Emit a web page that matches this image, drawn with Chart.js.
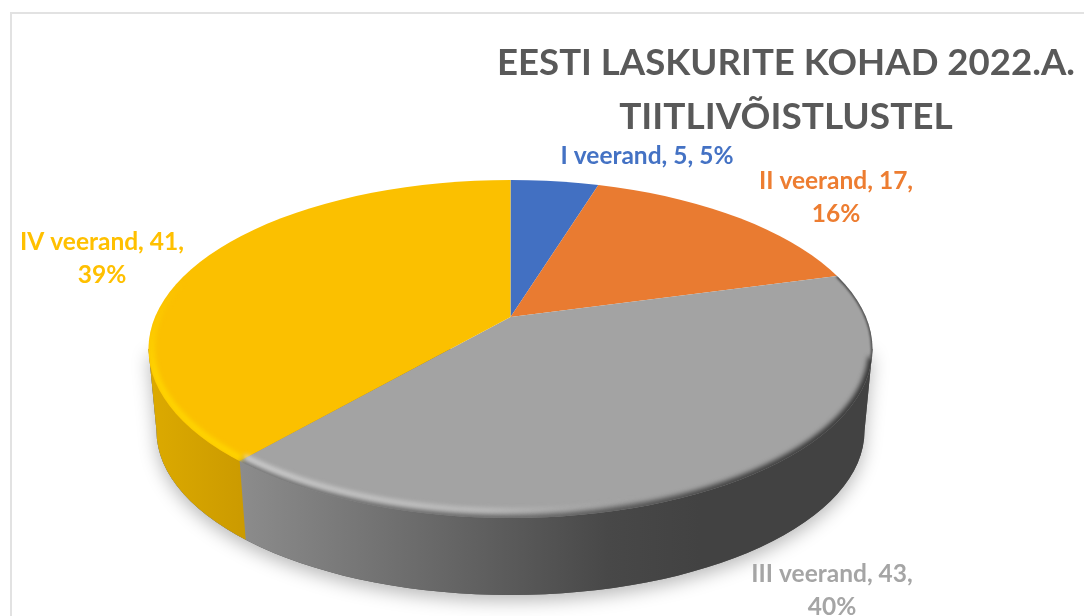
<!DOCTYPE html>
<html>
<head>
<meta charset="utf-8">
<title>Eesti laskurite kohad</title>
<script src="https://cdn.jsdelivr.net/npm/chart.js@4"></script>
<style>
  html, body { margin: 0; background: #fff; }
  #wrap { position: relative; width: 1084px; height: 616px; overflow: hidden; }
  #frame { position: absolute; left: 10px; top: 12px; width: 1100px; height: 700px;
           border-left: 2px solid #e2e2e2; border-top: 2px solid #e2e2e2; }
  canvas { position: absolute; left: 0; top: 0; }
</style>
</head>
<body>
<div id="wrap">
  <div id="frame"></div>
  <canvas id="pieChart" width="1084" height="616"></canvas>
</div>
<script>
const categories = ["I veerand", "II veerand", "III veerand", "IV veerand"];
const values = [5, 17, 43, 41];
const percents = [5, 16, 40, 39];
const titleLines = ["EESTI LASKURITE KOHAD 2022.A.", "TIITLIVÕISTLUSTEL"];

const sliceColors = ["#4270c2", "#e97b31", "#a3a3a3", "#fbc000"];
const labelColors = ["#4472c4", "#ed7d31", "#a5a5a5", "#ffc000"];
// label layout: centre x, first line y, and where the text wraps
const labelPos = [[647, 156], [836, 181], [832, 574], [102, 242]];
const labelWrap = [false, true, true, true];

// perspective of the pie: apex sits above the centre of the top ellipse
const apex = { x: 510.5, y: 317 };
const squash = 2.18;
const topFace = { x: 510.5, y: 349, rx: 362, ry: 169 };
const bottomFace = { x: 510.5, y: 431, rx: 354, ry: 164 };

// where a slice edge leaves the top ellipse, as ellipse parameter angle
function rimAngle(angle) {
  const dx = Math.cos(angle) * squash, dy = Math.sin(angle);
  const ox = (apex.x - topFace.x) / topFace.rx, oy = (apex.y - topFace.y) / topFace.ry;
  const ux = dx / topFace.rx, uy = dy / topFace.ry;
  const a = ux * ux + uy * uy, b = 2 * (ox * ux + oy * uy), c = ox * ox + oy * oy - 1;
  const t = (-b + Math.sqrt(b * b - 4 * a * c)) / (2 * a);
  return Math.atan2(oy + t * uy, ox + t * ux);
}

function wallPath(ctx) {
  ctx.beginPath();
  ctx.moveTo(topFace.x - topFace.rx, topFace.y);
  ctx.lineTo(bottomFace.x - bottomFace.rx, bottomFace.y);
  ctx.ellipse(bottomFace.x, bottomFace.y, bottomFace.rx, bottomFace.ry, 0, Math.PI, 0, true);
  ctx.lineTo(topFace.x + topFace.rx, topFace.y);
  ctx.closePath();
}

function drawWall(ctx, seam) {
  const topX = topFace.x + topFace.rx * Math.cos(seam);
  const botX = bottomFace.x + bottomFace.rx * Math.cos(seam);

  const grey = ctx.createLinearGradient(topX, 0, 700, 0);
  grey.addColorStop(0, "#8c8c8c");
  grey.addColorStop(0.45, "#666666");
  grey.addColorStop(0.8, "#484848");
  grey.addColorStop(1, "#424242");

  const yellow = ctx.createLinearGradient(150, 0, topX, 0);
  yellow.addColorStop(0, "#dcaa00");
  yellow.addColorStop(1, "#cc9b00");

  // soft shadow under the disc
  ctx.save();
  ctx.shadowColor = "rgba(0,0,0,0.28)";
  ctx.shadowBlur = 18;
  ctx.shadowOffsetY = 6;
  wallPath(ctx);
  ctx.fillStyle = "#555";
  ctx.fill();
  ctx.restore();

  ctx.save();
  wallPath(ctx);
  ctx.fillStyle = grey;
  ctx.fill();
  wallPath(ctx);
  ctx.clip();
  ctx.beginPath();
  ctx.moveTo(0, 0);
  ctx.lineTo(topX, 0);
  ctx.lineTo(topX, topFace.y + topFace.ry * Math.sin(seam));
  ctx.lineTo(botX, bottomFace.y + bottomFace.ry * Math.sin(seam));
  ctx.lineTo(botX, 616);
  ctx.lineTo(0, 616);
  ctx.closePath();
  ctx.fillStyle = yellow;
  ctx.fill();
  ctx.restore();
}

function drawRim(ctx, arcs) {
  const greyFrom = rimAngle(arcs[2].startAngle);
  const seam = rimAngle(arcs[2].endAngle);
  const yellowTo = rimAngle(arcs[3].endAngle);

  ctx.save();
  ctx.beginPath();
  ctx.ellipse(topFace.x, topFace.y, topFace.rx, topFace.ry, 0, 0, Math.PI * 2);
  ctx.clip();

  // thin dark line on the upper right edge
  ctx.filter = "blur(1px)";
  ctx.strokeStyle = "#4a4a4a";
  ctx.lineWidth = 3;
  ctx.beginPath();
  ctx.ellipse(topFace.x, topFace.y, topFace.rx, topFace.ry, 0, greyFrom, 0.05);
  ctx.stroke();
  ctx.filter = "blur(2.5px)";

  // dark lower edge on the grey part, light band on its left side
  const dark = ctx.createLinearGradient(240, 0, 875, 0);
  dark.addColorStop(0, "rgba(90,90,90,0.6)");
  dark.addColorStop(0.45, "rgba(80,80,80,0.7)");
  dark.addColorStop(0.75, "rgba(66,66,66,1)");
  dark.addColorStop(1, "rgba(50,50,50,1)");
  ctx.strokeStyle = dark;
  ctx.lineWidth = 8;
  ctx.beginPath();
  ctx.ellipse(topFace.x, topFace.y, topFace.rx, topFace.ry, 0, 0.05, seam);
  ctx.stroke();

  const light = ctx.createLinearGradient(240, 0, 640, 0);
  light.addColorStop(0, "rgba(228,228,228,1)");
  light.addColorStop(0.6, "rgba(210,210,210,0.8)");
  light.addColorStop(1, "rgba(190,190,190,0)");
  ctx.strokeStyle = light;
  ctx.lineWidth = 4;
  ctx.beginPath();
  ctx.ellipse(topFace.x, topFace.y, topFace.rx - 6, topFace.ry - 7, 0, Math.PI / 4, seam);
  ctx.stroke();

  // bright band on the yellow part, fading out towards the top
  const bright = ctx.createLinearGradient(0, 280, 0, 370);
  bright.addColorStop(0, "rgba(255,214,0,0)");
  bright.addColorStop(1, "rgba(255,214,0,1)");
  ctx.strokeStyle = bright;
  ctx.lineWidth = 6;
  ctx.beginPath();
  ctx.ellipse(topFace.x, topFace.y, topFace.rx - 3, topFace.ry - 3, 0, seam, yellowTo);
  ctx.stroke();
  ctx.restore();
}

const pie3d = {
  id: "pie3d",
  afterLayout(chart) {
    // title sits over the right part of the canvas
    chart.titleBlock.left = 497;
    chart.titleBlock.right = 1075;
  },
  beforeDatasetsDraw(chart) {
    const ctx = chart.ctx;
    const arcs = chart.getDatasetMeta(0).data;
    const first = arcs[0];
    drawWall(ctx, rimAngle(arcs[2].endAngle));

    ctx.save();
    ctx.beginPath();
    ctx.ellipse(topFace.x, topFace.y, topFace.rx, topFace.ry, 0, 0, Math.PI * 2);
    ctx.clip();
    const reach = 480 / first.outerRadius;
    ctx.translate(apex.x, apex.y);
    ctx.scale(reach, reach / squash);
    ctx.translate(-first.x, -first.y);
  },
  afterDatasetsDraw(chart) {
    const ctx = chart.ctx;
    ctx.restore();
    drawRim(ctx, chart.getDatasetMeta(0).data);
  },
  afterDraw(chart) {
    const ctx = chart.ctx;
    ctx.save();
    ctx.font = "bold 24.5px Lato";
    ctx.textAlign = "center";
    ctx.textBaseline = "middle";
    categories.forEach((cat, i) => {
      const [x, y] = labelPos[i];
      ctx.fillStyle = labelColors[i];
      if (labelWrap[i]) {
        ctx.fillText(`${cat}, ${values[i]},`, x, y);
        ctx.fillText(`${percents[i]}%`, x, y + 33);
      } else {
        ctx.fillText(`${cat}, ${values[i]}, ${percents[i]}%`, x, y);
      }
    });
    ctx.restore();
  }
};

new Chart(document.getElementById("pieChart"), {
  type: "pie",
  data: {
    labels: categories,
    datasets: [{
      data: values,
      backgroundColor: sliceColors,
      borderWidth: 0,
      clip: false
    }]
  },
  options: {
    responsive: false,
    animation: false,
    plugins: {
      legend: { display: false },
      tooltip: { enabled: false },
      title: {
        display: true,
        text: titleLines,
        color: "#595959",
        font: { family: "Lato", size: 37, weight: "bold", lineHeight: 1.46 },
        padding: { top: 36, bottom: 10 }
      }
    }
  },
  plugins: [pie3d]
});
</script>
</body>
</html>
